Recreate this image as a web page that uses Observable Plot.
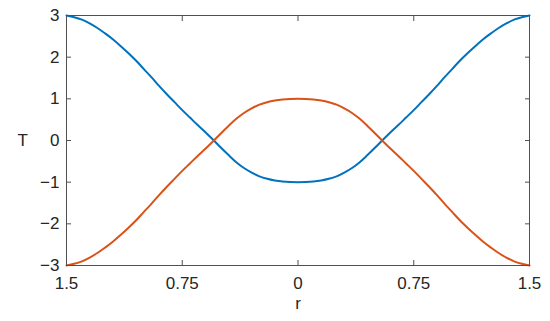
<!DOCTYPE html>
<html>
<head>
<meta charset="utf-8">
<script src="https://cdn.jsdelivr.net/npm/d3@7"></script>
<script src="https://cdn.jsdelivr.net/npm/@observablehq/plot@0.6"></script>
<style>
  html, body { margin: 0; padding: 0; background: #fff; }
  #chart svg { display: block; }
</style>
</head>
<body>
<div id="chart"></div>
<script>
// Values
const rValues = [-1.5, -1.45, -1.4, -1.35, -1.3, -1.25, -1.2, -1.15, -1.1, -1.05, -1.0, -0.95, -0.9, -0.85, -0.8, -0.75, -0.7, -0.65, -0.6, -0.545,
                 -0.5, -0.45, -0.4, -0.35, -0.3, -0.25, -0.2, -0.15, -0.1, -0.05, 0,
                 0.05, 0.1, 0.15, 0.2, 0.25, 0.3, 0.35, 0.4, 0.45, 0.5,
                 0.545, 0.6, 0.65, 0.7, 0.75, 0.8, 0.85, 0.9, 0.95, 1.0, 1.05, 1.1, 1.15, 1.2, 1.25, 1.3, 1.35, 1.4, 1.45, 1.5];
const blueT = [3, 2.96, 2.90, 2.81, 2.70, 2.57, 2.43, 2.27, 2.10, 1.92, 1.72, 1.52, 1.31, 1.11, 0.92, 0.73, 0.55, 0.37, 0.20, 0,
               -0.17, -0.35, -0.52, -0.66, -0.77, -0.86, -0.92, -0.96, -0.985, -0.997, -1,
               -0.997, -0.985, -0.96, -0.92, -0.86, -0.77, -0.66, -0.52, -0.35, -0.17,
               0, 0.20, 0.37, 0.55, 0.73, 0.92, 1.11, 1.31, 1.52, 1.72, 1.92, 2.10, 2.27, 2.43, 2.57, 2.70, 2.81, 2.90, 2.96, 3];
const orangeT = [-3, -2.96, -2.90, -2.81, -2.70, -2.57, -2.43, -2.27, -2.10, -1.92, -1.72, -1.52, -1.31, -1.11, -0.92, -0.73, -0.55, -0.37, -0.20, 0,
                 0.17, 0.35, 0.52, 0.66, 0.77, 0.86, 0.92, 0.96, 0.985, 0.997, 1,
                 0.997, 0.985, 0.96, 0.92, 0.86, 0.77, 0.66, 0.52, 0.35, 0.17,
                 0, -0.20, -0.37, -0.55, -0.73, -0.92, -1.11, -1.31, -1.52, -1.72, -1.92, -2.10, -2.27, -2.43, -2.57, -2.70, -2.81, -2.90, -2.96, -3];
const xTicks = [-1.5, -0.75, 0, 0.75, 1.5];
const xTickLabels = ["1.5", "0.75", "0", "0.75", "1.5"];
const yTicks = [-3, -2, -1, 0, 1, 2, 3];
const seriesColors = ["#0072BD", "#D95319"];

const blueData = rValues.map((r, i) => ({r, T: blueT[i]}));
const orangeData = rValues.map((r, i) => ({r, T: orangeT[i]}));
const axisColor = "#505050";

const chart = Plot.plot({
  width: 550,
  height: 321,
  marginLeft: 66,
  marginRight: 21,
  marginTop: 15,
  marginBottom: 56,
  style: {fontFamily: "'Liberation Sans', Arial, Helvetica, sans-serif", fontSize: "17px", color: "#262626", background: "#fff"},
  x: {domain: [-1.5, 1.5]},
  y: {domain: [-3, 3]},
  marks: [
    Plot.line(blueData, {x: "r", y: "T", stroke: seriesColors[0], strokeWidth: 2, curve: "catmull-rom"}),
    Plot.line(orangeData, {x: "r", y: "T", stroke: seriesColors[1], strokeWidth: 2, curve: "catmull-rom"}),
    Plot.frame({stroke: axisColor, strokeWidth: 1}),
    // inward ticks
    Plot.axisX(xTicks, {anchor: "bottom", tickSize: -5, text: null, label: null, stroke: axisColor}),
    Plot.axisX(xTicks, {anchor: "top", tickSize: -5, text: null, label: null, stroke: axisColor}),
    Plot.axisY(yTicks, {anchor: "left", tickSize: -5, text: null, label: null, stroke: axisColor}),
    Plot.axisY(yTicks, {anchor: "right", tickSize: -5, text: null, label: null, stroke: axisColor}),
    // tick labels
    Plot.axisX(xTicks, {anchor: "bottom", tickSize: 0, tickPadding: 11, label: null,
      tickFormat: (d) => xTickLabels[xTicks.indexOf(d)], fill: "#262626", fontSize: 17}),
    Plot.axisY(yTicks, {anchor: "left", tickSize: 0, tickPadding: 7, label: null, fill: "#262626", fontSize: 17}),
    // axis titles
    Plot.text(["r"], {frameAnchor: "bottom", dy: 43, fill: "#262626", fontSize: 17}),
    Plot.text(["T"], {frameAnchor: "left", dx: -49, fill: "#262626", fontSize: 17})
  ]
});
document.getElementById("chart").appendChild(chart);
</script>
</body>
</html>
